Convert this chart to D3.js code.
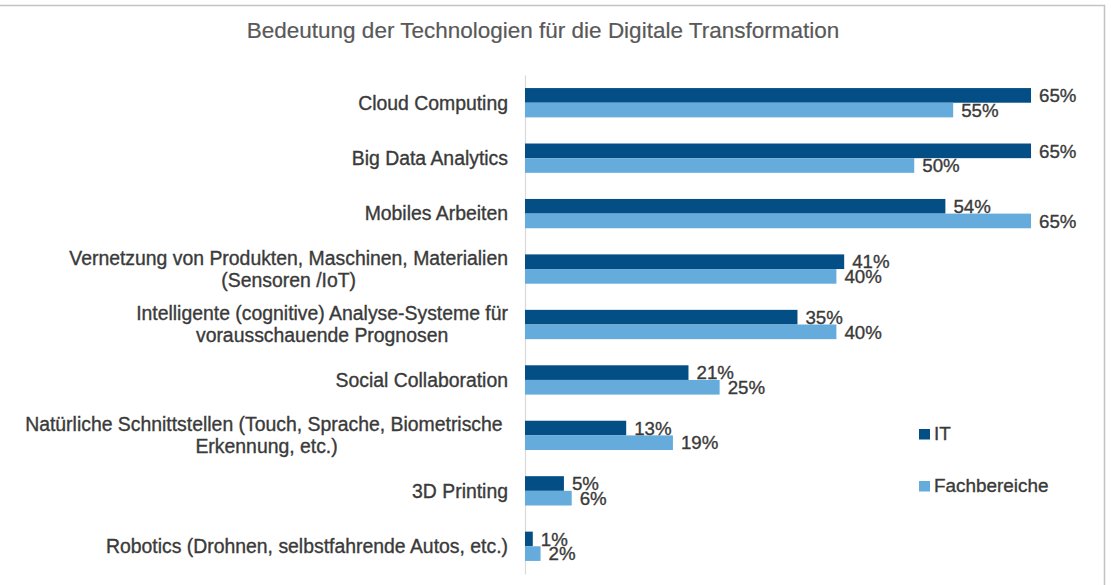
<!DOCTYPE html>
<html><head><meta charset="utf-8">
<script src="https://cdn.jsdelivr.net/npm/d3@7"></script>
<style>
html,body{margin:0;padding:0;background:#fff;}
svg{display:block;font-family:"Liberation Sans",Arial,sans-serif;}
</style></head>
<body>
<svg id="chart" width="1111" height="585"></svg>
<script>
const title = "Bedeutung der Technologien für die Digitale Transformation";
const categories = [
  ["Cloud Computing"],
  ["Big Data Analytics"],
  ["Mobiles Arbeiten"],
  ["Vernetzung von Produkten, Maschinen, Materialien", "(Sensoren /IoT)"],
  ["Intelligente (cognitive) Analyse-Systeme für", "vorausschauende Prognosen"],
  ["Social Collaboration"],
  ["Natürliche Schnittstellen (Touch, Sprache, Biometrische ", "Erkennung, etc.)"],
  ["3D Printing"],
  ["Robotics (Drohnen, selbstfahrende Autos, etc.)"]
];
const seriesNames = ["IT", "Fachbereiche"];
const itValues = [65, 65, 54, 41, 35, 21, 13, 5, 1];
const fachValues = [55, 50, 65, 40, 40, 25, 19, 6, 2];
const colors = ["#034e84", "#65abdc"];

const svg = d3.select("#chart");

// border
svg.append("rect").attr("x", -2).attr("y", 5.5).attr("width", 1106.5).attr("height", 600)
  .attr("fill", "none").attr("stroke", "#c3c3c3").attr("stroke-width", 1.5);

// title
svg.append("text").attr("x", 543).attr("y", 38).attr("text-anchor", "middle")
  .attr("font-size", 22.5).attr("fill", "#595959")
  .attr("stroke", "#595959").attr("stroke-width", 0.2).text(title);

const keys = categories.map((c, i) => "c" + i);
const x = d3.scaleLinear().domain([0, 70]).range([525, 525 + 70 * 7.785]);
const y = d3.scaleBand().domain(keys).range([75, 574]).paddingInner(0.4715).paddingOuter(0.2357);
const ys = d3.scaleBand().domain(seriesNames).range([0, y.bandwidth()]);

// axis line
svg.append("g").attr("transform", "translate(525,0)")
  .call(d3.axisLeft(y).tickSize(0).tickFormat(""))
  .call(g => g.select(".domain").attr("stroke", "#d9d9d9").attr("stroke-width", 1.2));

const data = [];
keys.forEach((k, i) => {
  data.push({k, s: seriesNames[0], v: itValues[i], c: colors[0]});
  data.push({k, s: seriesNames[1], v: fachValues[i], c: colors[1]});
});

svg.append("g").selectAll("rect").data(data).join("rect")
  .attr("x", x(0))
  .attr("y", d => y(d.k) + ys(d.s))
  .attr("width", d => x(d.v) - x(0))
  .attr("height", ys.bandwidth())
  .attr("fill", d => d.c);

svg.append("g").selectAll("text").data(data).join("text")
  .attr("x", d => x(d.v) + 8)
  .attr("y", d => y(d.k) + ys(d.s) + ys.bandwidth() / 2 + 6.7)
  .attr("font-size", 18.7).attr("fill", "#3a3a3a")
  .attr("stroke", "#3a3a3a").attr("stroke-width", 0.35)
  .text(d => d.v + "%");

// category labels
const labelRight = 508;
const lg = svg.append("g");
categories.forEach((lines, i) => {
  const cy = y(keys[i]) + y.bandwidth() / 2;
  const t = lg.append("text").attr("font-size", 19.4).attr("fill", "#3a3a3a")
    .attr("stroke", "#3a3a3a").attr("stroke-width", 0.35)
    .style("white-space", "pre");
  const n = lines.length;
  const spans = lines.map((ln, j) => t.append("tspan")
    .attr("y", cy + 6.8 + (j - (n - 1) / 2) * 22.3).text(ln));
  const widths = spans.map(s => s.node().getComputedTextLength());
  const maxW = d3.max(widths);
  spans.forEach(s => s.attr("x", labelRight - maxW / 2).attr("text-anchor", "middle"));
});

// legend
const leg = svg.append("g");
const legY = [429, 481];
seriesNames.forEach((s, i) => {
  leg.append("rect").attr("x", 919).attr("y", legY[i]).attr("width", 11).attr("height", 10.5)
    .attr("fill", colors[i]);
  leg.append("text").attr("x", 934).attr("y", legY[i] + 11.3)
    .attr("font-size", 18.9).attr("fill", "#3a3a3a")
    .attr("stroke", "#3a3a3a").attr("stroke-width", 0.35).text(s);
});
</script>
</body></html>
